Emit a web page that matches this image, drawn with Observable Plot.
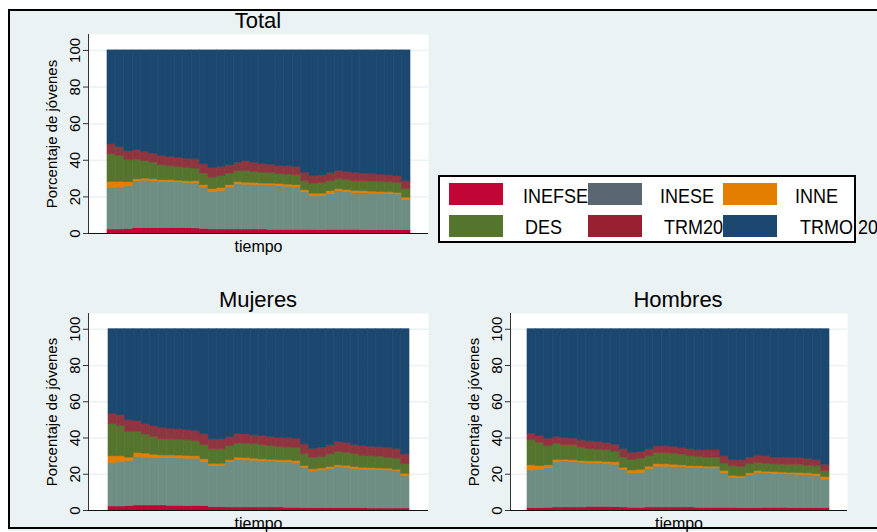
<!DOCTYPE html>
<html>
<head>
<meta charset="utf-8">
<script src="https://cdn.jsdelivr.net/npm/d3@7"></script>
<script src="https://cdn.jsdelivr.net/npm/@observablehq/plot@0.6"></script>
<style>
  html, body { margin: 0; padding: 0; background: #ffffff; }
  body { width: 877px; height: 532px; overflow: hidden; position: relative; font-family: "Liberation Sans", Arial, sans-serif; }
  #bg { position: absolute; left: 8px; top: 9px; width: 880px; height: 522px; background: #eaf2f3; }
  #frame { position: absolute; left: 8px; top: 9px; width: 880px; height: 520px; border: 2px solid #000; box-sizing: border-box; z-index: 10; pointer-events: none; }
  .panel { position: absolute; }
  .ptitle { position: absolute; transform: translate(-50%, -50%); font-size: 22px; color: #000; white-space: nowrap; }
  #legend { position: absolute; left: 438px; top: 175px; width: 418px; height: 68px; background: #fff; border: 2px solid #000; box-sizing: border-box; z-index: 5; overflow: visible; }
  .sw { position: absolute; width: 54px; height: 22px; }
  .lt { position: absolute; font-size: 18px; color: #000; white-space: nowrap; transform: translateY(-50%) scaleY(1.1); transform-origin: left center; line-height: 1; }
</style>
</head>
<body>
<div id="bg"></div>
<div id="root"></div>
<div id="frame"></div>
<script>
// ---- categories ----
const periodos = [1,2,3,4,5,6,7,8,9,10,11,12,13,14,15,16,17,18,19,20,21,22,23,24,25,26,27,28,29,30,31,32,33,34,35,36];
const series = ["INEFSE", "INESE", "INNE", "DES", "TRM20", "TRMO 20"];
const yTicks = [0, 20, 40, 60, 80, 100];

// ---- Total ----
const totalINEFSE = [2.2,2.2,2.4,2.9,2.9,2.9,2.9,2.9,2.9,2.9,2.8,2.5,2.2,2.2,2.2,2.2,2.2,2.2,2.2,2.0,2.0,2.0,2.0,2.0,2.0,1.8,2.0,2.0,2.0,2.0,1.8,1.8,1.8,1.8,1.8,1.8];
const totalINESE  = [22.7,22.9,23.4,25.6,26.0,25.6,25.3,25.3,25.1,24.7,24.7,22.6,20.5,21.1,22.9,24.7,24.5,24.3,24.2,24.2,24.0,23.5,23.1,20.5,18.5,18.7,19.6,21.1,20.7,20.0,20.2,20.0,20.0,19.8,19.5,16.4];
const totalINNE   = [3.3,3.1,2.2,1.1,1.1,1.1,0.9,0.9,0.9,0.9,1.0,1.3,1.5,1.6,1.3,1.3,1.1,1.1,0.9,1.1,1.1,1.2,1.3,1.1,1.3,1.3,1.5,1.1,1.1,1.3,1.1,1.1,0.9,0.9,0.9,1.4];
const totalDES    = [15.1,14.2,12.0,10.8,9.5,9.1,8.2,7.6,7.5,7.3,7.0,6.3,6.3,6.4,6.3,5.8,6.4,6.0,6.0,5.8,5.3,5.5,5.4,4.9,5.5,5.8,5.4,5.4,5.3,5.2,5.4,5.5,5.5,5.5,5.4,4.6];
const totalTRM20  = [5.4,4.9,4.9,5.1,5.0,4.9,5.1,5.1,5.1,5.1,5.0,5.1,5.3,5.1,4.6,4.7,5.3,5.1,4.7,4.5,4.5,4.5,4.6,4.8,4.2,4.2,4.6,4.6,4.5,4.6,4.2,4.1,4.0,3.8,3.7,4.3];
const totalTRMO20 = [51.3,52.7,55.1,54.5,55.5,56.4,57.6,58.2,58.5,59.1,59.5,62.2,64.2,63.6,62.7,61.3,60.5,61.3,62.0,62.4,63.1,63.3,63.6,66.7,68.5,68.2,66.9,65.8,66.4,66.9,67.3,67.5,67.8,68.2,68.7,71.5];

// ---- Mujeres ----
const mujINEFSE = [2.2,2.2,2.4,2.8,2.8,2.8,2.8,2.6,2.6,2.4,2.6,2.4,1.8,1.8,1.7,1.7,1.7,1.7,1.7,1.7,1.7,1.5,1.5,1.3,1.3,1.3,1.3,1.3,1.3,1.3,1.3,1.1,1.1,1.1,1.1,1.1];
const mujINESE  = [24.0,24.6,24.9,26.7,26.4,26.2,26.2,26.4,26.2,26.2,26.0,24.4,22.7,22.7,25.1,26.3,26.0,25.8,25.4,25.4,25.1,25.1,24.7,22.3,20.3,20.8,21.6,22.7,22.3,21.6,21.2,21.4,21.2,21.0,20.7,17.9];
const mujINNE   = [3.7,3.1,1.9,2.2,2.2,1.8,1.4,1.4,1.5,1.5,1.3,1.4,1.3,1.3,0.9,1.2,1.3,1.1,1.1,0.9,0.9,1.1,1.1,0.9,1.1,1.1,1.1,0.9,1.1,1.1,1.1,0.9,0.9,1.0,0.7,1.3];
const mujDES    = [17.7,16.6,14.2,11.7,10.5,9.8,8.9,8.9,8.8,8.6,8.3,7.8,8.0,8.0,7.7,7.7,7.9,7.9,7.8,7.6,7.4,7.0,7.2,6.5,6.3,6.3,7.0,7.4,7.2,7.0,6.5,6.5,6.5,6.1,6.1,5.2];
const mujTRM20  = [5.9,6.1,6.4,5.9,5.7,5.9,6.3,5.9,5.7,5.6,5.7,6.1,5.5,5.5,5.2,5.2,5.2,5.0,5.0,5.0,5.1,5.3,5.2,5.5,5.1,5.2,5.0,5.5,5.4,5.0,5.5,5.3,5.2,5.3,5.3,5.5];
const mujTRMO20 = [46.5,47.4,50.2,50.7,52.4,53.5,54.4,54.8,55.2,55.7,56.1,57.9,60.7,60.7,59.4,57.9,57.9,58.5,59.0,59.4,59.8,60.0,60.3,63.5,65.9,65.3,64.0,62.2,62.7,64.0,64.4,64.8,65.1,65.5,66.1,69.0];

// ---- Hombres ----
const homINEFSE = [1.3,1.3,1.5,1.7,1.7,1.7,1.7,2.0,2.0,2.0,1.8,1.7,1.5,1.5,1.7,1.7,1.7,1.7,1.7,1.7,1.5,1.5,1.5,1.5,1.5,1.3,1.3,1.3,1.5,1.5,1.5,1.3,1.3,1.3,1.3,1.3];
const homINESE  = [20.8,21.2,21.9,25.1,25.4,25.1,24.7,24.0,24.0,23.8,23.5,20.6,19.0,19.2,21.0,22.5,22.5,22.3,22.3,21.9,21.9,21.7,21.7,19.0,16.6,16.6,18.3,19.4,19.0,18.6,18.6,18.6,18.4,18.3,17.9,15.7];
const homINNE   = [2.8,2.0,1.5,1.2,0.9,0.9,0.9,1.1,1.1,1.0,1.3,1.3,1.6,1.8,1.5,1.4,1.3,1.3,0.9,0.9,1.0,1.0,1.0,1.3,1.1,0.9,0.9,1.1,0.9,1.1,0.9,0.9,1.0,0.9,0.9,1.5];
const homDES    = [13.8,12.8,10.5,8.9,8.0,8.3,7.4,6.7,6.5,6.4,5.7,5.6,5.9,6.1,5.7,6.1,6.2,6.1,5.9,5.6,5.1,5.0,5.0,4.0,5.2,5.2,5.0,4.4,4.4,4.3,4.3,4.5,4.6,4.2,4.3,3.3];
const homTRM20  = [3.7,3.7,4.3,3.7,4.0,3.7,4.0,4.4,4.2,4.1,4.0,4.6,3.9,3.7,3.9,3.7,3.7,3.7,3.7,3.7,3.7,4.0,4.0,4.1,3.3,3.7,3.7,4.2,4.1,3.7,3.9,3.9,3.7,3.9,3.3,3.5];
const homTRMO20 = [57.6,59.0,60.3,59.4,60.0,60.3,61.3,61.8,62.2,62.7,63.7,66.2,68.1,67.7,66.2,64.6,64.6,64.9,65.5,66.2,66.8,66.8,66.8,70.1,72.3,72.3,70.8,69.6,70.1,70.8,70.8,70.8,71.0,71.4,72.3,74.7];

// ---- styles (not data) ----
const areaColors   = ["#c10534", "#6e8e84", "#e37e00", "#55752f", "#8f3540", "#1c476e"];
const legendColors = ["#c10534", "#5a6770", "#e37e00", "#55752f", "#982030", "#1c476e"];
const FONT = "Liberation Sans, Arial, sans-serif";

function rowsOf(arrays) {
  const rows = [];
  series.forEach((s, k) => {
    arrays[k].forEach((v, i) => rows.push({t: periodos[i], serie: s, valor: v}));
  });
  return rows;
}

function panel(rows, o) {
  return Plot.plot({
    width: o.width, height: o.height,
    marginLeft: o.ml, marginRight: o.mr, marginTop: o.mt, marginBottom: o.mb,
    style: {background: "transparent", fontFamily: FONT, overflow: "visible", color: "#000"},
    x: {type: "band", domain: periodos, padding: 0, round: false, insetLeft: o.il, insetRight: o.ir, axis: null},
    y: {domain: [0, 108.7], axis: null},
    color: {domain: series, range: areaColors},
    marks: [
      Plot.frame({fill: "#ffffff", stroke: null}),
      Plot.gridY(yTicks.filter(v => v > 0), {stroke: "#eaf2f3", strokeOpacity: 1, strokeWidth: 1.5}),
      Plot.barY(rows, {x: "t", y: "valor", fill: "serie", stroke: "serie", strokeWidth: 0.6, inset: 0}),
      Plot.axisY(yTicks, {tickSize: 5, tickPadding: 4, tickRotate: -90, fontSize: 15, label: null, stroke: "#333", fill: "#000"}),
      Plot.frame({anchor: "left", stroke: "#333", strokeWidth: 1}),
      Plot.ruleY([0], {stroke: "#111", strokeWidth: 1.2}),
      Plot.text(["Porcentaje de jóvenes"], {text: d => d, frameAnchor: "left", textAnchor: "middle", lineAnchor: "middle", dx: -36, rotate: -90, fontSize: 15, fill: "#000"}),
      Plot.text(["tiempo"], {text: d => d, frameAnchor: "bottom", lineAnchor: "middle", dy: 13, fontSize: 16, fill: "#000"})
    ]
  });
}

const root = document.getElementById("root");
function place(node, left, top) {
  const d = document.createElement("div");
  d.className = "panel";
  d.style.left = left + "px";
  d.style.top = top + "px";
  d.appendChild(node);
  root.appendChild(d);
}
function title(text, x, y) {
  const d = document.createElement("div");
  d.className = "ptitle";
  d.style.left = x + "px";
  d.style.top = y + "px";
  d.textContent = text;
  root.appendChild(d);
}

place(panel(rowsOf([totalINEFSE, totalINESE, totalINNE, totalDES, totalTRM20, totalTRMO20]),
  {width: 440, height: 262, ml: 88, mr: 12, mt: 34, mb: 29, il: 19, ir: 18}), 0, 0);
place(panel(rowsOf([mujINEFSE, mujINESE, mujINNE, mujDES, mujTRM20, mujTRMO20]),
  {width: 440, height: 252, ml: 88, mr: 12, mt: 33, mb: 22, il: 20, ir: 19}), 0, 280);
place(panel(rowsOf([homINEFSE, homINESE, homINNE, homDES, homTRM20, homTRMO20]),
  {width: 437, height: 252, ml: 70, mr: 30, mt: 33, mb: 22, il: 17, ir: 18}), 440, 280);

title("Total", 258, 21);
title("Mujeres", 258, 300);
title("Hombres", 678, 300);

// ---- legend ----
const legend = document.createElement("div");
legend.id = "legend";
const swX = [9, 148, 283];
const txX = [[83, 220, 355], [85, 224, 360]];
const rowTop = [6, 38];
const rowMid = [19, 50];
series.forEach((s, k) => {
  const r = Math.floor(k / 3), c = k % 3;
  const sw = document.createElement("div");
  sw.className = "sw";
  sw.style.left = swX[c] + "px";
  sw.style.top = rowTop[r] + "px";
  sw.style.background = legendColors[k];
  legend.appendChild(sw);
  const t = document.createElement("div");
  t.className = "lt";
  t.style.left = txX[r][c] + "px";
  t.style.top = rowMid[r] + "px";
  t.style.zIndex = 2;
  t.textContent = s;
  legend.appendChild(t);
});
root.appendChild(legend);
</script>
</body>
</html>
